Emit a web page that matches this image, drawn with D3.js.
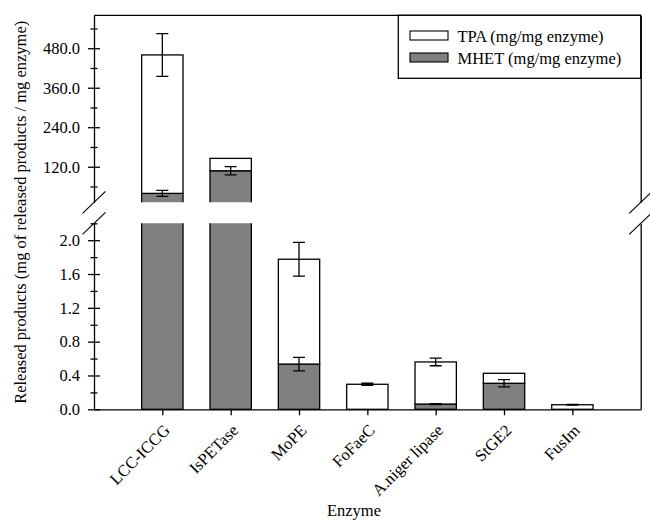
<!DOCTYPE html>
<html>
<head>
<meta charset="utf-8">
<script src="https://cdn.jsdelivr.net/npm/d3@7"></script>
<style>
  body { margin: 0; background: #fff; }
  svg { display: block; }
</style>
</head>
<body>
<svg id="chart" width="650" height="520"></svg>
<script>
// Released products per enzyme (mg of product / mg enzyme), stacked MHET + TPA
const categories = ["LCC-ICCG", "IsPETase", "MoPE", "FoFaeC", "A.niger lipase", "StGE2", "FusIm"];
const mhet    = [39.1, 107.8, 0.535, 0, 0.062, 0.308, 0];
const tpa     = [420.5, 37.6, 1.24, 0.296, 0.498, 0.118, 0.054];
const mhetErr = [9, 12.5, 0.08, 0, 0.005, 0.043, 0];
const tpaErr  = [65, 0, 0.2, 0.012, 0.045, 0, 0.005];
const seriesNames = ["TPA (mg/mg enzyme)", "MHET (mg/mg enzyme)"];

// Broken y axis: upper and lower segments
const upperDomain = [12, 580];
const lowerDomain = [0, 2.2];
const upperTicks = [120, 240, 360, 480];
const upperMinor = [60, 180, 300, 420, 540];
const lowerTicks = [0, 0.4, 0.8, 1.2, 1.6, 2.0];
const lowerMinor = [0.2, 0.6, 1.0, 1.4, 1.8, 2.2];

const FONT = '"Liberation Serif"';
const FS = 16.5;
const L = 94, R = 640.7, T = 15.3, B = 409.3;
const upperBottom = 202.3, lowerTop = 223.3;
const grey = "#808080";
const sw = 1.3;

const svg = d3.select("#chart");

const x = d3.scaleLinear().domain([0, categories.length + 1]).range([L, R]);
const step = x(1) - x(0);
const barW = step * 0.605;

const yUp = d3.scaleLinear().domain(upperDomain).range([upperBottom, T]);
const yLo = d3.scaleLinear().domain(lowerDomain).range([B, lowerTop]);

const segments = [
  { name: "upper", y: yUp, top: T, bottom: upperBottom, major: upperTicks, minor: upperMinor, pad: 0 },
  { name: "lower", y: yLo, top: lowerTop, bottom: B, major: lowerTicks, minor: lowerMinor, pad: 2 }
];

const defs = svg.append("defs");
const rows = categories.map((c, i) => ({ c, i, mhet: mhet[i], tpa: tpa[i], mErr: mhetErr[i], tErr: tpaErr[i] }));

segments.forEach(seg => {
  defs.append("clipPath").attr("id", "clip-" + seg.name)
    .append("rect").attr("x", L - 2).attr("width", R - L + 4)
    .attr("y", seg.top).attr("height", seg.bottom - seg.top + seg.pad);

  const g = svg.append("g").attr("clip-path", `url(#clip-${seg.name})`);

  // MHET (lower stack)
  g.selectAll("rect.mhet").data(rows.filter(d => d.mhet > 0)).join("rect")
    .attr("class", "mhet")
    .attr("x", d => x(d.i + 1) - barW / 2).attr("width", barW)
    .attr("y", d => seg.y(d.mhet)).attr("height", d => seg.y(0) - seg.y(d.mhet))
    .attr("fill", grey).attr("stroke", "#000").attr("stroke-width", sw);

  // TPA (stacked on top)
  g.selectAll("rect.tpa").data(rows.filter(d => d.tpa > 0)).join("rect")
    .attr("class", "tpa")
    .attr("x", d => x(d.i + 1) - barW / 2).attr("width", barW)
    .attr("y", d => seg.y(d.mhet + d.tpa)).attr("height", d => seg.y(d.mhet) - seg.y(d.mhet + d.tpa))
    .attr("fill", "#fff").attr("stroke", "#000").attr("stroke-width", sw);

  // error bars at the top of each stacked part
  const errs = [];
  rows.forEach(d => {
    if (d.mErr > 0) errs.push({ i: d.i, v: d.mhet, e: d.mErr });
    if (d.tErr > 0) errs.push({ i: d.i, v: d.mhet + d.tpa, e: d.tErr });
  });
  const inSeg = errs.filter(e => seg.name === "upper" ? e.v > lowerDomain[1] : e.v <= lowerDomain[1]);
  const cap = 6;
  const eg = g.selectAll("g.err").data(inSeg).join("g").attr("class", "err")
    .attr("stroke", "#000").attr("stroke-width", sw);
  eg.append("line").attr("x1", d => x(d.i + 1)).attr("x2", d => x(d.i + 1))
    .attr("y1", d => seg.y(d.v - d.e)).attr("y2", d => seg.y(d.v + d.e));
  eg.append("line").attr("x1", d => x(d.i + 1) - cap).attr("x2", d => x(d.i + 1) + cap)
    .attr("y1", d => seg.y(d.v + d.e)).attr("y2", d => seg.y(d.v + d.e));
  eg.append("line").attr("x1", d => x(d.i + 1) - cap).attr("x2", d => x(d.i + 1) + cap)
    .attr("y1", d => seg.y(d.v - d.e)).attr("y2", d => seg.y(d.v - d.e));

  // left axis: major ticks crossing the axis line
  const ax = svg.append("g").attr("transform", `translate(${L},0)`)
    .call(d3.axisLeft(seg.y).tickValues(seg.major).tickFormat(d3.format(".1f"))
      .tickSizeInner(6).tickSizeOuter(0).tickPadding(8));
  ax.selectAll(".tick line").attr("x1", 6);
  // minor ticks
  const mx = svg.append("g").attr("transform", `translate(${L},0)`)
    .call(d3.axisLeft(seg.y).tickValues(seg.minor).tickFormat("").tickSizeInner(3.5).tickSizeOuter(0));
  mx.selectAll(".tick line").attr("x1", 3.5);
  mx.select(".domain").remove();

  // right frame
  svg.append("g").attr("transform", `translate(${R},0)`)
    .call(d3.axisRight(seg.y).tickValues([]).tickSizeOuter(0));
});

// top frame
svg.append("line").attr("x1", L).attr("x2", R).attr("y1", T).attr("y2", T)
  .attr("stroke", "#000").attr("stroke-width", sw);

// bottom axis with rotated category labels
const xa = svg.append("g").attr("transform", `translate(0,${B})`)
  .call(d3.axisBottom(x).tickValues(d3.range(1, categories.length + 1))
    .tickFormat(i => categories[i - 1]).tickSize(6).tickSizeOuter(0));
xa.selectAll(".tick text")
  .attr("text-anchor", "end")
  .attr("x", 0).attr("y", 0).attr("dy", 0)
  .attr("transform", "translate(8,22) rotate(-45)");

svg.selectAll(".domain, .tick line").attr("stroke", "#000").attr("stroke-width", sw);

// axis break marks
const brk = svg.append("g").attr("stroke", "#000").attr("stroke-width", 1.1);
[L, R].forEach(ax => {
  [upperBottom, lowerTop].forEach(yb => {
    brk.append("line").attr("x1", ax - 11.5).attr("y1", yb + 11)
      .attr("x2", ax + 11.5).attr("y2", yb - 11);
  });
});

// legend
const lg = svg.append("g");
lg.append("rect").attr("x", 398.3).attr("y", T).attr("width", R - 398.3).attr("height", 78.3 - T)
  .attr("fill", "#fff").attr("stroke", "#000").attr("stroke-width", sw);
const legendFills = ["#fff", grey];
seriesNames.forEach((name, k) => {
  lg.append("rect").attr("x", 410).attr("y", 31 + k * 22).attr("width", 38).attr("height", 9)
    .attr("fill", legendFills[k]).attr("stroke", "#000").attr("stroke-width", 1.1);
  lg.append("text").attr("x", 457.5).attr("y", 41.5 + k * 22.5).text(name);
});

// axis titles
svg.append("text").attr("transform", `translate(25.5,${(T + B) / 2}) rotate(-90)`)
  .attr("text-anchor", "middle")
  .text("Released products (mg of released products / mg enzyme)");
svg.append("text").attr("x", 354).attr("y", 516).attr("text-anchor", "middle")
  .text("Enzyme");

// typography for every label
svg.selectAll("text")
  .style("font-family", FONT)
  .style("font-size", FS + "px")
  .attr("fill", "#000");
</script>
</body>
</html>
